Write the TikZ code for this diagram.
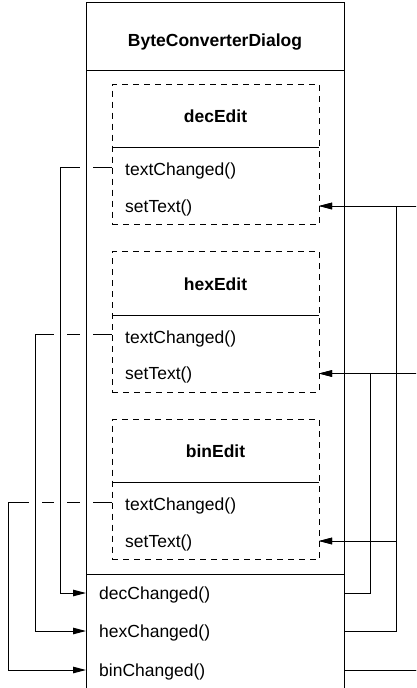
\documentclass[tikz,border=0pt]{standalone}
\usepackage{fontspec}
\setmainfont{Liberation Sans}
\usetikzlibrary{arrows.meta}

\tikzset{
  wire/.style={line width=1pt},
  sig/.style={wire,-{Triangle[length=13pt,width=6.5pt]}},
  editbox/.style={draw,line width=1pt,dash pattern=on 6pt off 5pt,minimum width=207pt,minimum height=140.5pt,inner sep=0pt},
  lbl/.style={anchor=base west,inner sep=0pt,font=\fontsize{17.5}{20}\selectfont},
  ttl/.style={anchor=base,inner sep=0pt,font=\fontsize{17.5}{20}\selectfont\bfseries}
}
\newcommand{\wiregap}[2]{\fill[white] (#1-6.5,#2-2) rectangle (#1+6.5,#2+2);
  \draw[wire] (#1,#2-3) -- (#1,#2+3);}

\begin{document}
\begin{tikzpicture}[x=1pt,y=-1pt]
\useasboundingbox (0,0) rectangle (416,688);
\clip (0,0) rectangle (416,688);
% dialog class box
\draw[wire] (86,2) rectangle (344,700);
\draw[wire] (86,70) -- (344,70);
\draw[wire] (86,574) -- (344,574);
\node[ttl] (dialog) at (215,46.5) {ByteConverterDialog};
% member widgets
\foreach \name/\k in {dec/0,hex/1,bin/2}{
  \pgfmathsetmacro\oy{167.5*\k}
  \node[editbox] (\name Box) at (215.5,154.25+\oy) {};
  \draw[wire] (112,147.5+\oy) -- (319,147.5+\oy);
  \node[ttl] (\name Title) at (215.5,122.7+\oy) {\name Edit};
  \node[lbl] (\name Text) at (125,175.7+\oy) {textChanged()};
  \node[lbl] (\name Set) at (125,212+\oy) {setText()};
  \coordinate (\name Out) at (112,167.3+\oy);
  \coordinate (\name In) at (319,206+\oy);
}
% slots
\node[lbl] (decSlot) at (99,599.5) {decChanged()};
\node[lbl] (hexSlot) at (99,637.5) {hexChanged()};
\node[lbl] (binSlot) at (99,676.5) {binChanged()};
\coordinate (decSlotIn) at (86,593);
\coordinate (hexSlotIn) at (86,631);
\coordinate (binSlotIn) at (86,670);
\coordinate (decSlotOut) at (344,593);
\coordinate (hexSlotOut) at (344,631);
\coordinate (binSlotOut) at (344,670);
% signal -> slot
\draw[sig] (decOut) -| (60,593) -- (decSlotIn);
\draw[sig] (hexOut) -| (35,631) -- (hexSlotIn);
\draw[sig] (binOut) -| (8,670) -- (binSlotIn);
\wiregap{86}{167.3}
\wiregap{86}{334.8}
\wiregap{60}{334.8}
\wiregap{86}{502.3}
\wiregap{60}{502.3}
\wiregap{35}{502.3}
% slot -> setText
\draw[sig] (decSlotOut) -| (370,373.5) -- (hexIn);
\draw[sig] (decSlotOut) -| (370,541) -- (binIn);
\draw[sig] (hexSlotOut) -| (396,206) -- (decIn);
\draw[sig] (hexSlotOut) -| (396,541) -- (binIn);
\draw[sig] (binSlotOut) -| (430,206) -- (decIn);
\draw[sig] (binSlotOut) -| (430,373.5) -- (hexIn);
\end{tikzpicture}
\end{document}
